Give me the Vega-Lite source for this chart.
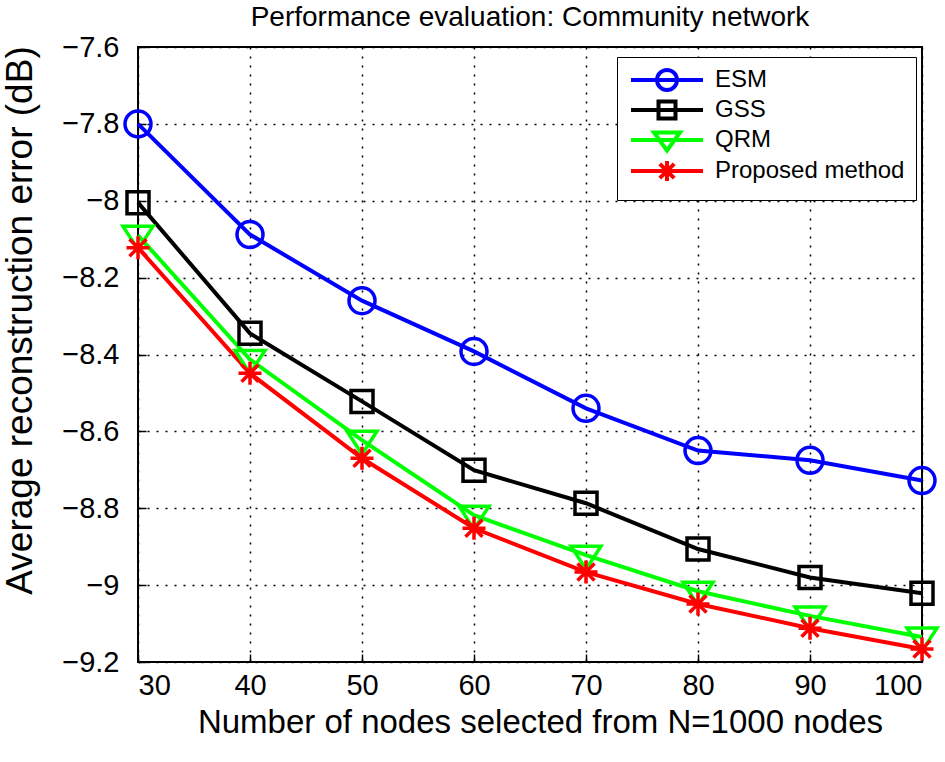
{
  "$schema": "https://vega.github.io/schema/vega-lite/v6.json",
  "autosize": {"type": "none"},
  "width": 784,
  "height": 615,
  "padding": {"left": 138, "top": 47, "right": 23, "bottom": 100},
  "background": "white",
  "title": {"text": "Performance evaluation: Community network", "fontSize": 28, "font": "Liberation Sans", "fontWeight": "normal", "color": "black", "offset": 1},
  "config": {
    "view": {"stroke": "black", "strokeWidth": 2},
    "axis": {"labelFont": "Liberation Sans", "titleFont": "Liberation Sans", "labelColor": "black", "titleColor": "black", "labelFontSize": 29, "titleFontWeight": "normal", "grid": true, "gridColor": "black", "gridDash": [2, 7], "gridWidth": 1.5, "gridOpacity": 1, "domain": false, "tickColor": "black", "tickSize": -8, "tickWidth": 1.5}
  },
  "data": {"values": [
    {"n": 30, "err": -7.800, "method": "ESM"},
    {"n": 40, "err": -8.088, "method": "ESM"},
    {"n": 50, "err": -8.260, "method": "ESM"},
    {"n": 60, "err": -8.392, "method": "ESM"},
    {"n": 70, "err": -8.540, "method": "ESM"},
    {"n": 80, "err": -8.650, "method": "ESM"},
    {"n": 90, "err": -8.675, "method": "ESM"},
    {"n": 100, "err": -8.728, "method": "ESM"},
    {"n": 30, "err": -8.005, "method": "GSS"},
    {"n": 40, "err": -8.345, "method": "GSS"},
    {"n": 50, "err": -8.522, "method": "GSS"},
    {"n": 60, "err": -8.701, "method": "GSS"},
    {"n": 70, "err": -8.787, "method": "GSS"},
    {"n": 80, "err": -8.906, "method": "GSS"},
    {"n": 90, "err": -8.980, "method": "GSS"},
    {"n": 100, "err": -9.021, "method": "GSS"},
    {"n": 30, "err": -8.090, "method": "QRM"},
    {"n": 40, "err": -8.413, "method": "QRM"},
    {"n": 50, "err": -8.623, "method": "QRM"},
    {"n": 60, "err": -8.818, "method": "QRM"},
    {"n": 70, "err": -8.922, "method": "QRM"},
    {"n": 80, "err": -9.016, "method": "QRM"},
    {"n": 90, "err": -9.080, "method": "QRM"},
    {"n": 100, "err": -9.135, "method": "QRM"},
    {"n": 30, "err": -8.122, "method": "Proposed method"},
    {"n": 40, "err": -8.449, "method": "Proposed method"},
    {"n": 50, "err": -8.670, "method": "Proposed method"},
    {"n": 60, "err": -8.852, "method": "Proposed method"},
    {"n": 70, "err": -8.966, "method": "Proposed method"},
    {"n": 80, "err": -9.049, "method": "Proposed method"},
    {"n": 90, "err": -9.112, "method": "Proposed method"},
    {"n": 100, "err": -9.166, "method": "Proposed method"}
  ]},
  "encoding": {
    "x": {"field": "n", "type": "quantitative", "scale": {"domain": [30, 100], "nice": false, "zero": false}, "axis": {"values": [30, 40, 50, 60, 70, 80, 90, 100], "title": "Number of nodes selected from N=1000 nodes", "titleFontSize": 33, "labelPadding": 17, "titlePadding": 6, "titleX": 402}},
    "y": {"field": "err", "type": "quantitative", "scale": {"domain": [-9.2, -7.6], "nice": false, "zero": false}, "axis": {"values": [-7.6, -7.8, -8, -8.2, -8.4, -8.6, -8.8, -9, -9.2], "format": "~f", "title": "Average reconstruction error (dB)", "titleFontSize": 37, "labelPadding": 27, "titlePadding": 22, "titleY": 273}}
  },
  "layer": [
    {
      "mark": {"type": "line", "strokeWidth": 4, "clip": false},
      "encoding": {
        "color": {"field": "method", "type": "nominal", "sort": ["ESM", "GSS", "QRM", "Proposed method"], "scale": {"domain": ["ESM", "GSS", "QRM", "Proposed method"], "range": ["#0000ff", "#000000", "#00ff00", "#ff0000"]},
          "legend": {"title": null, "orient": "none", "legendX": 479, "legendY": 10, "labelFont": "Liberation Sans", "labelFontSize": 24, "labelColor": "black", "labelLimit": 0, "symbolSize": 400, "symbolOffset": 27, "labelOffset": 36, "padding": 11, "rowPadding": -13, "strokeColor": "black", "fillColor": "white", "cornerRadius": 0,
            "encode": {"symbols": {"update": {
              "shape": {"signal": "datum.value === 'ESM' ? 'M0,-1M0,1M-3.6,0L3.6,0M-1,0A1,1 0 1,0 1,0A1,1 0 1,0 -1,0Z' : datum.value === 'GSS' ? 'M0,-1M0,1M-3.6,0L3.6,0M-0.85,-0.85L0.85,-0.85L0.85,0.85L-0.85,0.85Z' : datum.value === 'QRM' ? 'M0,-1M0,1M-3.6,0L3.6,0M-1.3,-0.75L1.3,-0.75L0,1.05Z' : 'M0,-1M0,1M-3.6,0L3.6,0M0,-1L0,1M-0.72,-0.72L0.72,0.72M-0.72,0.72L0.72,-0.72M-1,0L1,0'"},
              "stroke": {"scale": "color", "field": "value"},
              "fill": {"value": "transparent"},
              "strokeWidth": {"value": 4},
              "opacity": {"value": 1}
            }}}
          }
        }
      }
    },
    {
      "transform": [{"filter": "datum.method === 'ESM'"}],
      "mark": {"type": "point", "filled": false, "color": "#0000ff", "strokeWidth": 3.5, "opacity": 1, "size": 400, "clip": false, "shape": "M-1.3,0A1.3,1.3 0 1,0 1.3,0A1.3,1.3 0 1,0 -1.3,0Z"}
    },
    {
      "transform": [{"filter": "datum.method === 'GSS'"}],
      "mark": {"type": "point", "filled": false, "color": "#000000", "strokeWidth": 3.5, "opacity": 1, "size": 400, "clip": false, "shape": "M-1.1,-1.1L1.1,-1.1L1.1,1.1L-1.1,1.1Z"}
    },
    {
      "transform": [{"filter": "datum.method === 'QRM'"}],
      "mark": {"type": "point", "filled": false, "color": "#00ff00", "strokeWidth": 3.5, "opacity": 1, "size": 400, "clip": false, "shape": "M-1.5,-0.9L1.5,-0.9L0,1.4Z"}
    },
    {
      "transform": [{"filter": "datum.method === 'Proposed method'"}],
      "mark": {"type": "point", "filled": false, "color": "#ff0000", "strokeWidth": 3.5, "opacity": 1, "size": 400, "clip": false, "shape": "M0,-1.15L0,1.15M-0.85,-0.85L0.85,0.85M-0.85,0.85L0.85,-0.85M-1.15,0L1.15,0"}
    }
  ]
}
